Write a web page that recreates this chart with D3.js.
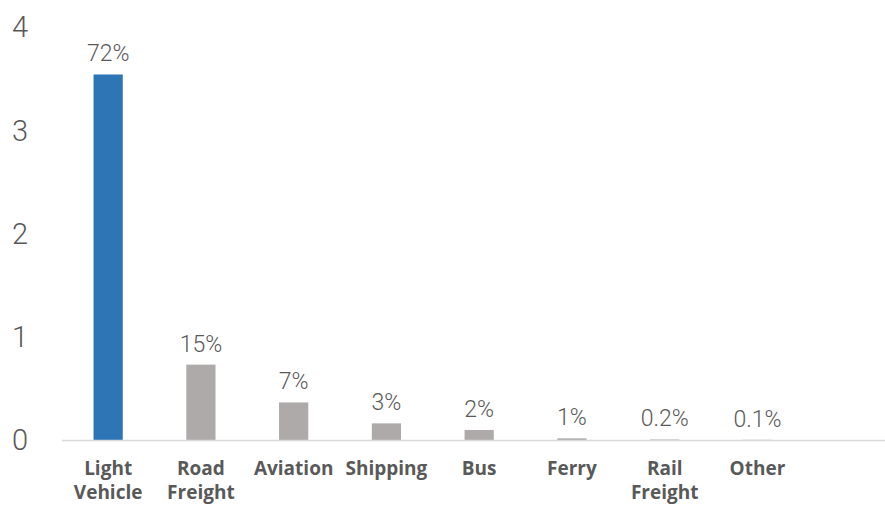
<!DOCTYPE html>
<html>
<head>
<meta charset="utf-8">
<script src="https://cdn.jsdelivr.net/npm/d3@7"></script>
<style>
  body { margin: 0; background: #fff; }
  svg { display: block; }
</style>
</head>
<body>
<svg id="chart"></svg>
<script>
// data
var categories = [["Light", "Vehicle"], ["Road", "Freight"], ["Aviation"], ["Shipping"],
                  ["Bus"], ["Ferry"], ["Rail", "Freight"], ["Other"]];
var values = [3.54, 0.73, 0.364, 0.161, 0.097, 0.016, 0.005, 0.002];
var shares = ["72%", "15%", "7%", "3%", "2%", "1%", "0.2%", "0.1%"];
var yTicks = [0, 1, 2, 3, 4];

var width = 885, height = 505;
var textColor = "#595959";

var svg = d3.select("#chart")
    .attr("width", width)
    .attr("height", height);

var keys = categories.map(function(c) { return c.join(" "); });

var x = d3.scaleBand()
    .domain(keys)
    .range([62, 62 + 92.7 * keys.length])
    .paddingInner(0.685)
    .paddingOuter(0.34);

var y = d3.scaleLinear()
    .domain([0, 4])
    .range([440, 27]);

// y tick labels, no axis line
svg.append("g")
    .selectAll("text")
    .data(yTicks)
    .enter().append("text")
    .attr("x", 28)
    .attr("y", function(d) { return y(d); })
    .attr("dy", "0.36em")
    .attr("text-anchor", "end")
    .style("font-family", "Roboto, sans-serif")
    .style("font-weight", 300)
    .style("font-size", "29px")
    .style("fill", textColor)
    .text(function(d) { return d; });

// bars
svg.append("g")
    .selectAll("rect")
    .data(values)
    .enter().append("rect")
    .attr("x", function(d, i) { return x(keys[i]); })
    .attr("y", function(d) { return y(d); })
    .attr("width", x.bandwidth())
    .attr("height", function(d) { return y(0) - y(d); })
    .attr("fill", function(d, i) { return i == 0 ? "#2e75b6" : "#aeaaaa"; });

// baseline
svg.append("line")
    .attr("x1", 62).attr("x2", width)
    .attr("y1", y(0) + 0.5).attr("y2", y(0) + 0.5)
    .style("stroke", "#d9d9d9")
    .style("stroke-width", 1.5);

// share labels
svg.append("g")
    .selectAll("text")
    .data(values)
    .enter().append("text")
    .attr("x", function(d, i) { return x(keys[i]) + x.bandwidth() / 2; })
    .attr("y", function(d) { return y(d) - 13; })
    .attr("text-anchor", "middle")
    .style("font-family", "Roboto, sans-serif")
    .style("font-weight", 300)
    .style("font-size", "23px")
    .style("fill", textColor)
    .text(function(d, i) { return shares[i]; });

// category labels
var cat = svg.append("g")
    .selectAll("text")
    .data(categories)
    .enter().append("text")
    .attr("x", function(d, i) { return x(keys[i]) + x.bandwidth() / 2; })
    .attr("y", 475)
    .attr("text-anchor", "middle")
    .style("font-family", "'Open Sans', sans-serif")
    .style("font-weight", 700)
    .style("font-size", "19px")
    .style("fill", textColor);

cat.selectAll("tspan")
    .data(function(d) { return d; })
    .enter().append("tspan")
    .attr("x", function() { return d3.select(this.parentNode).attr("x"); })
    .attr("dy", function(d, i) { return i == 0 ? 0 : 24; })
    .text(function(d) { return d; });
</script>
</body>
</html>
